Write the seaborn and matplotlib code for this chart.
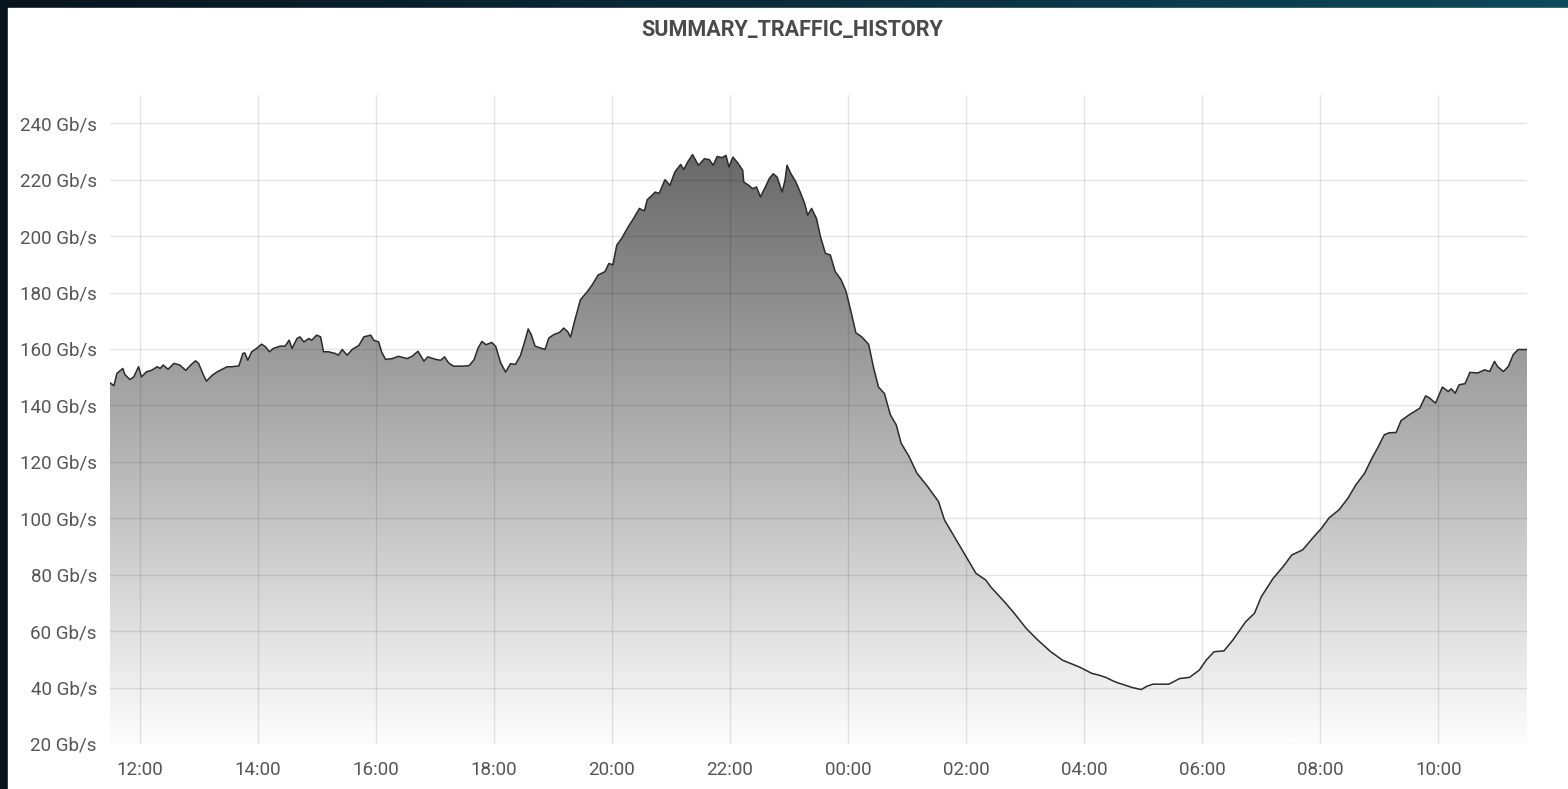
import numpy as np
import pandas as pd
import seaborn as sns
import matplotlib.pyplot as plt
import matplotlib.dates as mdates
from matplotlib.colors import LinearSegmentedColormap
from matplotlib.patches import Rectangle

# Traffic samples (clock time, Gb/s), 24h window starting 11:30
times = [
    "11:30", "11:34", "11:37", "11:43", "11:45", "11:50", "11:54", "11:59", "12:02", "12:07",
    "12:12", "12:18", "12:21", "12:24", "12:29", "12:35", "12:41", "12:47", "12:52", "12:57",
    "13:00", "13:05", "13:08", "13:14", "13:19", "13:24", "13:29", "13:34", "13:41", "13:45",
    "13:47", "13:50", "13:54", "13:59", "14:04", "14:08", "14:12", "14:16", "14:23", "14:28",
    "14:32", "14:35", "14:40", "14:43", "14:47", "14:52", "14:55", "15:00", "15:04", "15:07",
    "15:12", "15:19", "15:22", "15:26", "15:31", "15:36", "15:43", "15:48", "15:55", "15:58",
    "16:03", "16:06", "16:10", "16:17", "16:23", "16:32", "16:37", "16:43", "16:49", "16:53",
    "17:01", "17:06", "17:10", "17:14", "17:19", "17:28", "17:35", "17:40", "17:44", "17:48",
    "17:52", "17:58", "18:02", "18:07", "18:12", "18:17", "18:22", "18:27", "18:31", "18:35",
    "18:38", "18:42", "18:47", "18:52", "18:56", "19:01", "19:07", "19:11", "19:15", "19:18",
    "19:22", "19:28", "19:35", "19:40", "19:46", "19:53", "19:57", "20:01", "20:05", "20:10",
    "20:17", "20:22", "20:28", "20:33", "20:36", "20:41", "20:44", "20:48", "20:54", "20:59",
    "21:04", "21:10", "21:13", "21:17", "21:22", "21:28", "21:34", "21:39", "21:43", "21:47",
    "21:52", "21:56", "21:59", "22:03", "22:08", "22:13", "22:14", "22:19", "22:23", "22:27",
    "22:31", "22:36", "22:40", "22:44", "22:48", "22:53", "22:56", "22:58", "23:02", "23:07",
    "23:12", "23:16", "23:19", "23:23", "23:28", "23:32", "23:37", "23:42", "23:47", "23:53",
    "23:58", "00:03", "00:08", "00:14", "00:21", "00:26", "00:31", "00:37", "00:43", "00:49",
    "00:54", "01:02", "01:10", "01:21", "01:32", "01:38", "01:49", "02:00", "02:10", "02:20",
    "02:25", "02:39", "02:49", "03:01", "03:13", "03:26", "03:38", "03:55", "04:08", "04:15",
    "04:22", "04:29", "04:34", "04:42", "04:49", "04:58", "05:04", "05:10", "05:16", "05:26",
    "05:37", "05:47", "05:57", "06:04", "06:12", "06:22", "06:31", "06:44", "06:53", "07:00",
    "07:12", "07:22", "07:31", "07:42", "07:52", "08:01", "08:09", "08:19", "08:28", "08:36",
    "08:45", "08:52", "08:58", "09:05", "09:10", "09:17", "09:22", "09:30", "09:41", "09:47",
    "09:51", "09:57", "10:04", "10:10", "10:13", "10:17", "10:21", "10:27", "10:32", "10:40",
    "10:47", "10:52", "10:57", "11:00", "11:06", "11:11", "11:16", "11:21", "11:30",
]
gbps = [
    148.0, 147.0, 151.3, 153.1, 151.0, 149.2, 150.0, 153.7, 150.1, 151.9,
    152.4, 153.7, 153.1, 154.3, 152.8, 154.9, 154.3, 152.4, 154.3, 155.8,
    154.9, 150.7, 148.6, 150.7, 151.9, 152.8, 153.7, 153.7, 154.0, 158.4,
    158.6, 156.0, 159.0, 160.2, 161.7, 160.8, 159.0, 160.2, 161.0, 161.0,
    163.1, 160.2, 163.7, 164.3, 162.5, 163.7, 163.1, 164.9, 164.3, 159.0,
    159.0, 158.4, 157.8, 159.8, 157.8, 159.8, 161.3, 164.3, 164.9, 163.1,
    162.5, 159.0, 156.3, 156.6, 157.4, 156.6, 157.4, 159.2, 155.7, 157.2,
    156.3, 156.0, 157.2, 155.1, 153.9, 153.9, 154.1, 156.2, 160.3, 162.7,
    161.5, 162.3, 160.9, 155.1, 151.8, 154.8, 154.5, 157.6, 162.1, 167.1,
    165.1, 161.0, 160.4, 159.8, 163.9, 165.1, 165.9, 167.4, 166.2, 164.2,
    169.7, 177.4, 180.3, 182.7, 186.2, 187.4, 190.3, 189.8, 196.8, 199.2,
    203.5, 206.2, 209.8, 208.9, 212.9, 214.5, 215.6, 215.1, 220.0, 218.0,
    222.7, 225.4, 223.6, 226.2, 228.9, 225.1, 227.4, 227.1, 225.1, 228.2,
    227.8, 228.6, 224.5, 228.0, 225.9, 223.3, 219.2, 218.0, 216.8, 217.4,
    213.9, 217.4, 220.4, 222.1, 220.9, 215.6, 219.8, 225.1, 222.1, 219.2,
    215.1, 211.5, 207.4, 209.8, 206.2, 199.8, 193.9, 193.3, 187.4, 184.5,
    180.4, 173.3, 165.7, 164.3, 161.6, 153.3, 146.5, 144.2, 136.7, 133.1,
    126.6, 121.9, 116.0, 111.2, 105.9, 99.4, 92.9, 86.4, 80.5, 78.1,
    75.7, 70.4, 66.3, 61.0, 56.8, 52.7, 49.7, 47.3, 45.0, 44.4,
    43.6, 42.4, 41.7, 40.8, 40.0, 39.3, 40.5, 41.2, 41.2, 41.2,
    43.2, 43.6, 46.2, 49.7, 52.7, 53.0, 56.8, 63.3, 66.3, 72.2,
    78.7, 82.8, 87.0, 88.8, 92.9, 96.4, 100.2, 103.0, 107.1, 111.8,
    116.0, 121.0, 124.8, 129.6, 130.3, 130.4, 134.6, 136.6, 139.0, 143.4,
    142.6, 140.8, 146.5, 144.9, 145.9, 144.3, 147.3, 147.7, 151.7, 151.5,
    152.6, 152.0, 155.6, 153.8, 152.0, 153.8, 158.0, 159.8, 159.8,
]
y_ticks = [20, 40, 60, 80, 100, 120, 140, 160, 180, 200, 220, 240]
title = "SUMMARY_TRAFFIC_HISTORY"

# clock strings -> timestamps, rolling over midnight
stamps = pd.Series(pd.to_datetime(["2024-01-01 " + t for t in times]))
rolled = (stamps.diff() < pd.Timedelta(0)).cumsum()
stamps = stamps + pd.to_timedelta(rolled, unit="D")
df = pd.DataFrame({"time": stamps, "traffic": gbps})

sns.set_style("whitegrid")
plt.rcParams["font.family"] = ["Roboto", "DejaVu Sans"]

W, H = 1568, 789
fig = plt.figure(figsize=(W / 100, H / 100), dpi=100)

# dashboard backdrop with white panel
bg = fig.add_axes([0, 0, 1, 1], zorder=-10)
bg_cmap = LinearSegmentedColormap.from_list("bg", ["#07141d", "#0a2c3c", "#0c4a5c"])
bg.imshow(np.linspace(0, 1, 256)[None, :], aspect="auto", cmap=bg_cmap, extent=[0, 1, 0, 1])
bg.add_patch(Rectangle((8 / W, 0), 1, 1 - 8 / H, transform=bg.transAxes, color="white"))
bg.set_xlim(0, 1)
bg.set_ylim(0, 1)
bg.axis("off")

ax = fig.add_axes([110 / W, 45 / H, 1417 / W, 649 / H], zorder=1)
ax.set_facecolor("white")

ymin, ymax = 20, 250
xnum = mdates.date2num(df["time"])

# gradient fill under the curve
fill_cmap = LinearSegmentedColormap.from_list("fill", ["#fdfdfd", "#5a5a5a"])
poly = ax.fill_between(df["time"], df["traffic"], ymin, color="none", lw=0)
grad = ax.imshow(np.linspace(0, 1, 256)[:, None], aspect="auto", cmap=fill_cmap, origin="lower",
                 extent=[xnum[0], xnum[-1], ymin, ymax], zorder=1)
grad.set_clip_path(poly.get_paths()[0], transform=ax.transData)

sns.lineplot(data=df, x="time", y="traffic", ax=ax, color="#2b2b2b", lw=1.1, zorder=3)

ax.set_xlim(df["time"].iloc[0], df["time"].iloc[-1])
ax.set_ylim(ymin, ymax)
ax.set_yticks(y_ticks)
ax.set_yticklabels([f"{v} Gb/s" for v in y_ticks])
ax.xaxis.set_major_locator(mdates.HourLocator(byhour=range(0, 24, 2)))
ax.xaxis.set_major_formatter(mdates.DateFormatter("%H:%M"))
ax.set_xlabel("")
ax.set_ylabel("")

ax.grid(True, color="black", alpha=0.1, lw=1.0, zorder=4)
ax.set_axisbelow(False)
for s in ax.spines.values():
    s.set_visible(False)
ax.tick_params(axis="y", length=6, color="#e6e6e6", width=1.0, pad=3.5, labelsize=13.5, labelcolor="#555555")
ax.tick_params(axis="x", length=0, pad=12, labelsize=13.5, labelcolor="#555555")

fig.text(792 / W, 1 - 30 / H, title, ha="center", va="center", fontsize=15.5,
         fontweight="bold", color="#4a4a4a")

fig.savefig("out.png", dpi=100)
